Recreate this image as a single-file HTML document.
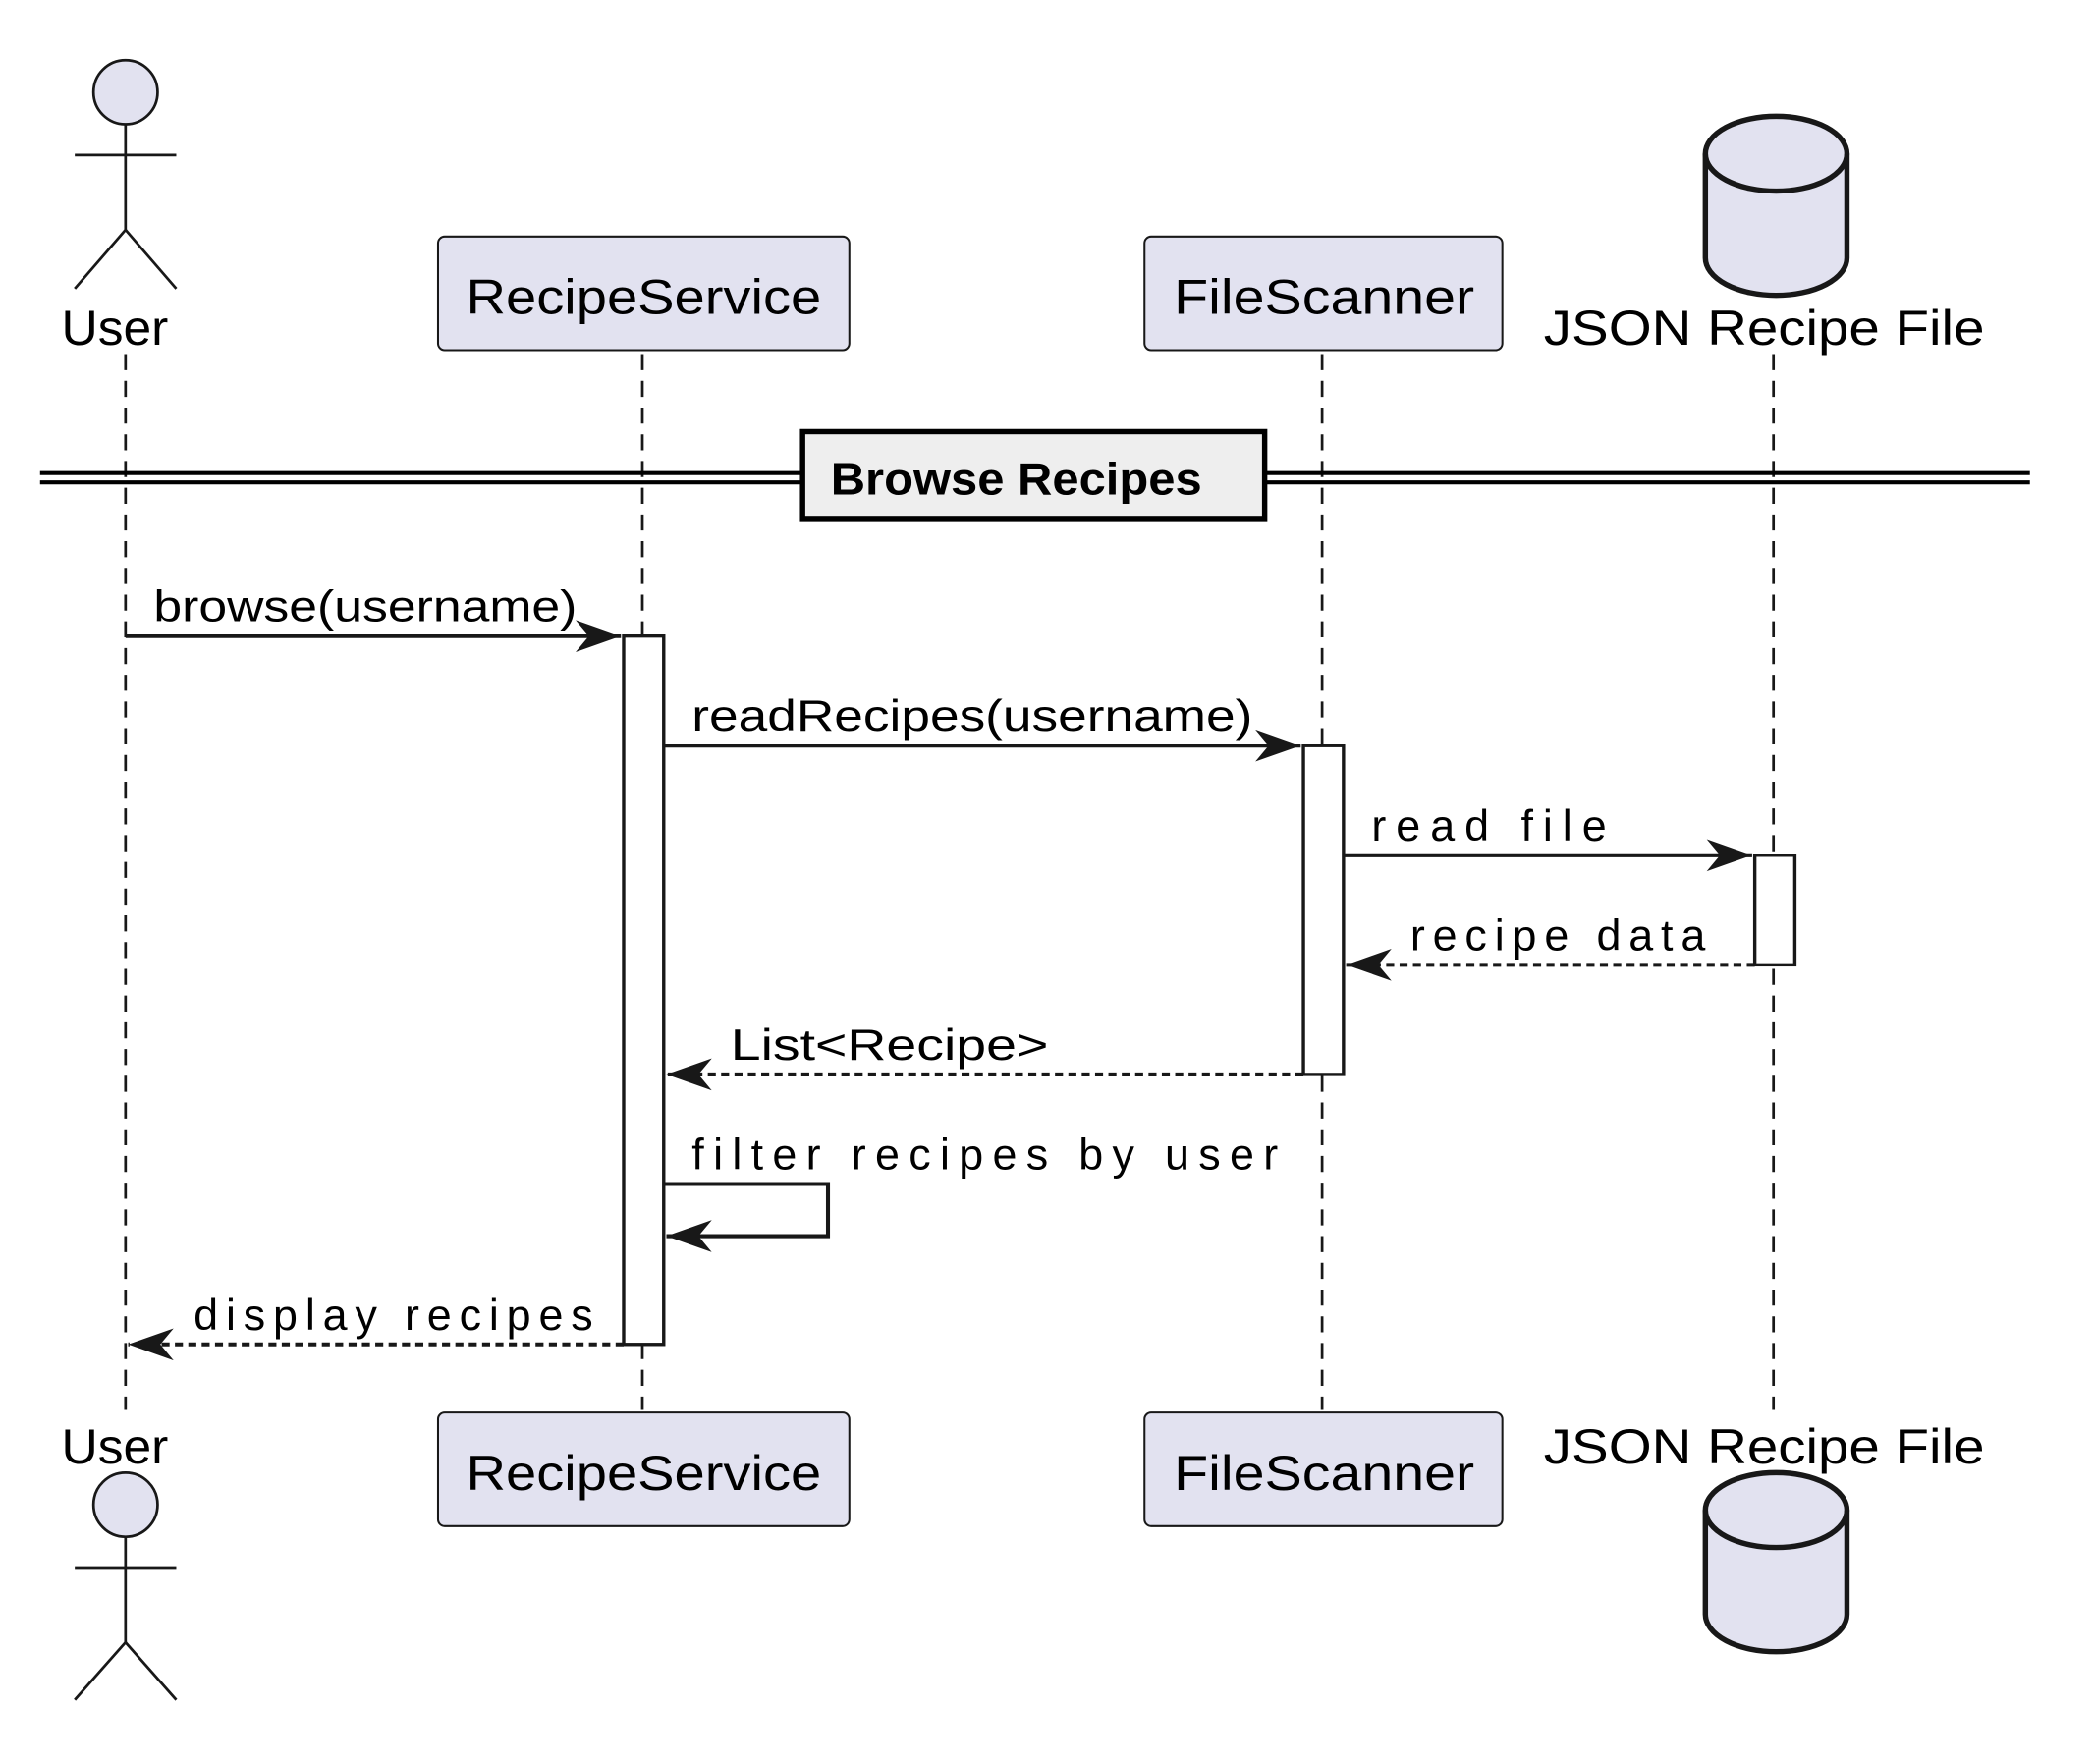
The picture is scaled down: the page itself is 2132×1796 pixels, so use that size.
<!DOCTYPE html>
<html><head><meta charset="utf-8"><style>html,body{margin:0;padding:0;background:#fff}svg{display:block}</style></head>
<body>
<svg width="2132" height="1796" viewBox="0 0 1568 1320" preserveAspectRatio="none" xmlns="http://www.w3.org/2000/svg" font-family="Liberation Sans, sans-serif">
<defs>
<marker id="a" markerWidth="40" markerHeight="30" refX="34" refY="12" orient="auto" markerUnits="userSpaceOnUse">
<polygon points="0,0 34,12 0,24 10,12" fill="#181818"/>
</marker>
</defs>
<g stroke="#181818" stroke-width="2" stroke-dasharray="12,8" fill="none">
<line x1="94" y1="265" x2="94" y2="1055"/>
<line x1="481" y1="265" x2="481" y2="1055"/>
<line x1="990" y1="265" x2="990" y2="1055"/>
<line x1="1328" y1="265" x2="1328" y2="1055"/>
</g>
<g stroke="#181818" stroke-width="2" fill="none">
<circle cx="94" cy="69" r="24" fill="#E2E2F0"/>
<line x1="94" y1="93" x2="94" y2="172"/><line x1="56" y1="116" x2="132" y2="116"/>
<line x1="94" y1="172" x2="56" y2="216"/><line x1="94" y1="172" x2="132" y2="216"/>
<circle cx="94" cy="1126" r="24" fill="#E2E2F0"/>
<line x1="94" y1="1150" x2="94" y2="1229"/><line x1="56" y1="1173" x2="132" y2="1173"/>
<line x1="94" y1="1229" x2="56" y2="1272"/><line x1="94" y1="1229" x2="132" y2="1272"/>
</g>
<g fill="#E2E2F0" stroke="#181818" stroke-width="1.5">
<rect x="328" y="177" width="308" height="85" rx="5"/>
<rect x="857" y="177" width="268" height="85" rx="5"/>
<rect x="328" y="1057" width="308" height="85" rx="5"/>
<rect x="857" y="1057" width="268" height="85" rx="5"/>
</g>
<g fill="#E2E2F0" stroke="#181818" stroke-width="4">
<path d="M1277,115 A53,28 0 0 1 1383,115 L1383,193 A53,28 0 0 1 1277,193 Z"/>
<path d="M1277,115 A53,28 0 0 0 1383,115" fill="none"/>
<path d="M1277,1130 A53,28 0 0 1 1383,1130 L1383,1208 A53,28 0 0 1 1277,1208 Z"/>
<path d="M1277,1130 A53,28 0 0 0 1383,1130" fill="none"/>
</g>
<g font-size="37" fill="#000">
<text x="46" y="258" textLength="80" lengthAdjust="spacingAndGlyphs">User</text>
<text x="349" y="235" textLength="266" lengthAdjust="spacingAndGlyphs">RecipeService</text>
<text x="879" y="235" textLength="225" lengthAdjust="spacingAndGlyphs">FileScanner</text>
<text x="1156" y="258" textLength="330" lengthAdjust="spacingAndGlyphs">JSON Recipe File</text>
<text x="46" y="1095" textLength="80" lengthAdjust="spacingAndGlyphs">User</text>
<text x="349" y="1115" textLength="266" lengthAdjust="spacingAndGlyphs">RecipeService</text>
<text x="879" y="1115" textLength="225" lengthAdjust="spacingAndGlyphs">FileScanner</text>
<text x="1156" y="1095" textLength="330" lengthAdjust="spacingAndGlyphs">JSON Recipe File</text>
</g>
<g stroke="#000" stroke-width="3">
<line x1="30" y1="354" x2="1520" y2="354"/><line x1="30" y1="361" x2="1520" y2="361"/>
</g>
<rect x="601" y="323" width="346" height="65" fill="#EEEEEE" stroke="#000" stroke-width="4"/>
<text x="622" y="370" font-size="34" font-weight="bold" textLength="278" lengthAdjust="spacingAndGlyphs">Browse Recipes</text>
<g fill="#fff" stroke="#181818" stroke-width="2.5">
<rect x="467" y="476" width="30" height="530"/>
<rect x="976" y="558" width="30" height="246"/>
<rect x="1314" y="640" width="30" height="82"/>
</g>
<g stroke="#181818" stroke-width="3" fill="none">
<line x1="94" y1="476" x2="465" y2="476" marker-end="url(#a)"/>
<line x1="497" y1="558" x2="974" y2="558" marker-end="url(#a)"/>
<line x1="1006" y1="640" x2="1312" y2="640" marker-end="url(#a)"/>
<line x1="1314" y1="722" x2="1008" y2="722" stroke-dasharray="6,4" marker-end="url(#a)"/>
<line x1="976" y1="804" x2="499" y2="804" stroke-dasharray="6,4" marker-end="url(#a)"/>
<polyline points="497,886 620,886 620,925 499,925" marker-end="url(#a)"/>
<line x1="467" y1="1006" x2="96" y2="1006" stroke-dasharray="6,4" marker-end="url(#a)"/>
</g>
<g font-size="33" fill="#000">
<text x="115" y="465" textLength="317" lengthAdjust="spacingAndGlyphs">browse(username)</text>
<text x="518" y="547" textLength="420" lengthAdjust="spacingAndGlyphs">readRecipes(username)</text>
<text x="1027" y="629" textLength="176">read file</text>
<text x="1056" y="711" textLength="221">recipe data</text>
<text x="547" y="793" textLength="238" lengthAdjust="spacingAndGlyphs">List&lt;Recipe&gt;</text>
<text x="518" y="875" textLength="439">filter recipes by user</text>
<text x="145" y="995" textLength="299">display recipes</text>
</g>
</svg>
</body></html>
